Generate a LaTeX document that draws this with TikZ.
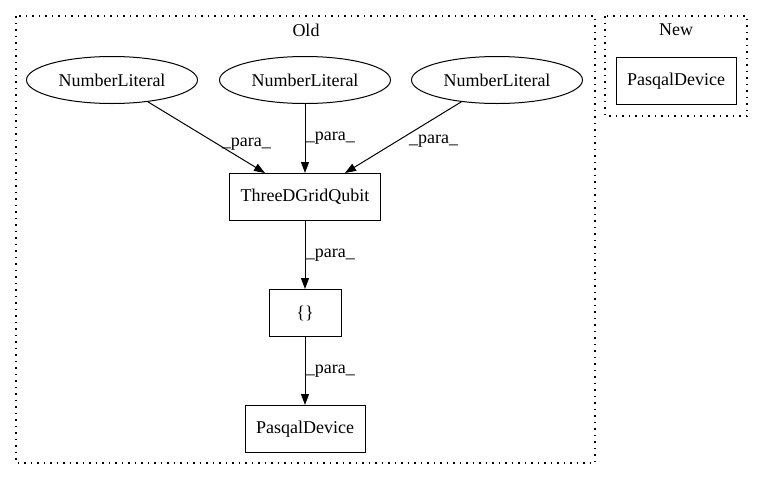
\documentclass[tikz,border=0pt]{standalone}
\usepackage{fontspec}
\setmainfont{Liberation Serif}
\usetikzlibrary{arrows.meta, shapes.geometric}
\tikzset{
    cluster-box/.style = {draw, dash pattern=on 1.5pt off 5pt, line width=1.1pt},
    lit-node/.style = {draw, ellipse, minimum width=171pt, minimum height=47pt, inner sep=0pt, line width=1pt, font=\fontsize{18pt}{20pt}\selectfont},
    call-node/.style = {draw, rectangle, minimum height=47pt, inner sep=0pt, line width=1pt, font=\fontsize{18pt}{20pt}\selectfont},
    flow/.style = {-{Triangle[length=11pt,width=8pt]}, line width=1pt},
    para-label/.style = {font=\fontsize{18pt}{20pt}\selectfont},
}
\begin{document}
\begin{tikzpicture}[x=1pt, y=-1pt]
\useasboundingbox (0,0) rectangle (763,480);
% clusters
\draw[cluster-box] (16,16) rectangle (595,463);
\draw[cluster-box] (605,16) rectangle (747,116);
\node[para-label] (old-title) at (306,30) {Old};
\node[para-label] (new-title) at (676,30) {New};
% nodes
\node[lit-node] (lit-a) at (112,80) {NumberLiteral};
\node[lit-node] (lit-b) at (305,80) {NumberLiteral};
\node[lit-node] (lit-c) at (497,80) {NumberLiteral};
\node[call-node, minimum width=151pt] (grid) at (305,197) {ThreeDGridQubit};
\node[call-node, minimum width=72pt] (braces) at (305,313) {\{\}};
\node[call-node, minimum width=120pt] (device-old) at (305,429) {PasqalDevice};
\node[call-node, minimum width=120pt] (device-new) at (676,81) {PasqalDevice};
\coordinate (grid-in-a) at ([xshift=-40pt]grid.north);
\coordinate (grid-in-c) at ([xshift=40pt]grid.north);
% edges
\draw[flow] (lit-a) -- (grid-in-a) node[para-label, pos=0.6, right=0pt] {\_para\_};
\draw[flow] (lit-b) -- (grid) node[para-label, pos=0.5, right=-3pt] {\_para\_};
\draw[flow] (lit-c) -- (grid-in-c) node[para-label, pos=0.55, right=8pt] {\_para\_};
\draw[flow] (grid) -- (braces) node[para-label, midway, right=-3pt] {\_para\_};
\draw[flow] (braces) -- (device-old) node[para-label, midway, right=-3pt] {\_para\_};
\end{tikzpicture}
\end{document}
